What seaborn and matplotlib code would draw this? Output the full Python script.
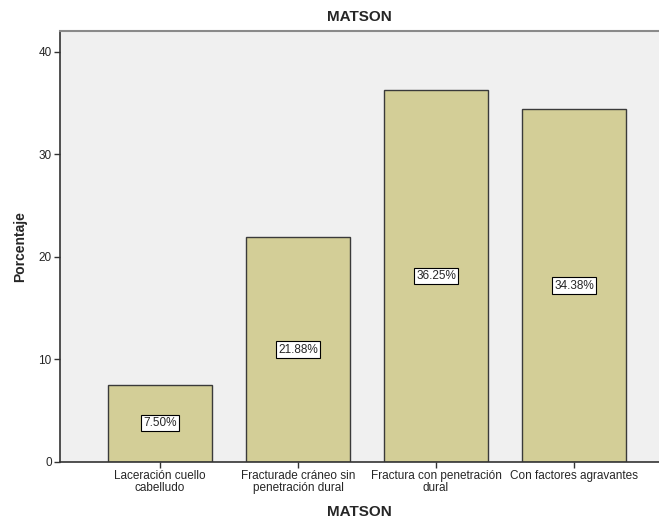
import matplotlib
matplotlib.use("Agg")
import matplotlib.pyplot as plt
import seaborn as sns
import pandas as pd

# categories and percentages
categorias = ["Laceración cuello\ncabelludo",
              "Fracturade cráneo sin\npenetración dural",
              "Fractura con penetración\ndural",
              "Con factores agravantes"]
porcentajes = [7.50, 21.88, 36.25, 34.38]
etiquetas = ["7.50%", "21.88%", "36.25%", "34.38%"]
yticks = [0, 10, 20, 30, 40]

df = pd.DataFrame({"cat": categorias, "pct": porcentajes})

sns.set_style("white")
plt.rcParams['font.family'] = ['Liberation Sans', 'DejaVu Sans']

fig = plt.figure(figsize=(6.59, 5.24), dpi=100)
ax = fig.add_axes([60/659, 1-461.7/524, (659-60)/659, (461.7-30.7)/524])
ax.set_facecolor("#F0F0F0")

sns.barplot(data=df, x="cat", y="pct", color="#D3CE97", saturation=1,
            edgecolor="#3A3A3A", linewidth=1, width=0.75, ax=ax)

#value labels in white boxes, centred in each bar
for i, (v, t) in enumerate(zip(porcentajes, etiquetas)):
    ax.text(i, v/2, t, ha="center", va="center", fontsize=8.5,
            bbox=dict(facecolor="white", edgecolor="black", pad=1.5, linewidth=0.8))

ax.set_xlim(-0.725, 3 + (659-574)/138)
ax.set_ylim(0, 42.05)
ax.set_yticks(yticks)
ax.tick_params(axis="both", direction="out", length=4, width=1, color="#333333",
               labelsize=8.5, pad=2, left=True, bottom=True)
for lbl in ax.get_xticklabels():
    lbl.set_linespacing(1.0)
for s in ["left", "bottom"]:
    ax.spines[s].set_color("#333333")
    ax.spines[s].set_linewidth(1.2)
ax.spines["top"].set_color("#8A8A8A")
ax.spines["top"].set_linewidth(1.5)
ax.spines["right"].set_visible(False)

ax.set_xlabel("MATSON", fontsize=11, fontweight="bold", labelpad=8)
ax.set_ylabel("Porcentaje", fontsize=10, fontweight="bold", labelpad=8)
fig.text((60+659)/2/659, 1-17/524, "MATSON", ha="center", va="center",
         fontsize=11, fontweight="bold")

fig.savefig("out.png", dpi=100)
